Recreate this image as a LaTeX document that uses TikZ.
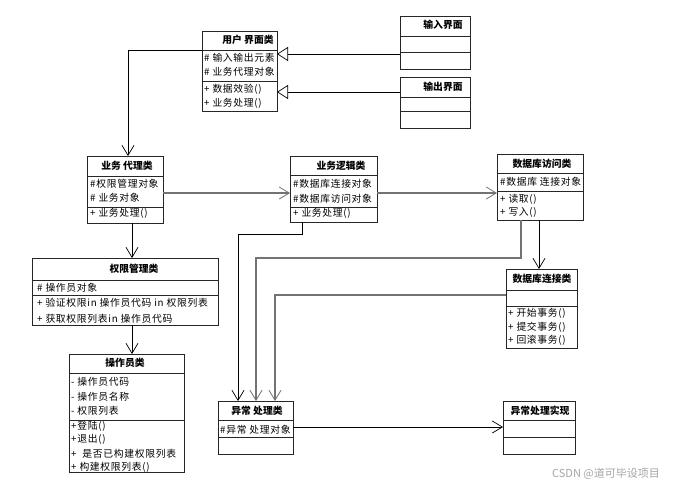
\documentclass[tikz,border=0pt]{standalone}
\usepackage{fontspec}
\setmainfont[LetterSpace=7]{Noto Sans CJK SC}
\newfontfamily\wmfont{Noto Sans CJK SC}
\usetikzlibrary{arrows.meta}
\tikzset{
  cls/.style={draw=black!85, line width=0.9pt, fill=white, inner sep=0pt, outer sep=0pt, rectangle, anchor=north west},
  sepl/.style={draw=black!85, line width=0.9pt},
  ttl/.style={font=\wmfont\fontsize{9.8}{11}\selectfont\bfseries, inner sep=0pt},
  txt/.style={font=\fontsize{9.8}{11}\selectfont, inner sep=0pt, anchor=west},
  assoc/.style={draw=black, line width=0.7pt, -{Straight Barb[length=10pt,width=12pt,line width=0.7pt]}},
  assocg/.style={draw=black!55, line width=1.2pt, -{Straight Barb[length=10pt,width=12pt,line width=0.8pt]}},
  inh/.style={draw=black, line width=0.7pt, -{Triangle[open, length=11pt, width=14pt, fill=white]}},
}
\newcommand\seps[3]{%
  \draw[sepl] (#1.west|-0,#2) -- (#1.east|-0,#2);
  \draw[sepl] (#1.west|-0,#3) -- (#1.east|-0,#3);}
\begin{document}
\begin{tikzpicture}[x=1pt, y=-1pt]
\useasboundingbox (0,0) rectangle (681,488);
\fill[white] (0,0) rectangle (681,488);

% boxes
\node[cls, minimum width=75pt, minimum height=80pt] (ui) at (202,31) {};
\node[cls, minimum width=70pt, minimum height=53pt] (inp) at (400,16) {};
\node[cls, minimum width=70pt, minimum height=51pt] (outp) at (400,77) {};
\node[cls, minimum width=76pt, minimum height=67pt] (agent) at (87,156) {};
\node[cls, minimum width=87pt, minimum height=66pt] (logic) at (290,156) {};
\node[cls, minimum width=86pt, minimum height=66pt] (dba) at (497,154) {};
\node[cls, minimum width=186pt, minimum height=67pt] (perm) at (32,258) {};
\node[cls, minimum width=115pt, minimum height=118pt] (op) at (69,354) {};
\node[cls, minimum width=71pt, minimum height=79pt] (dbc) at (506,269) {};
\node[cls, minimum width=75pt, minimum height=53pt] (exc) at (218,401) {};
\node[cls, minimum width=72pt, minimum height=53pt] (impl) at (503,401) {};

\seps{ui}{50}{81}
\seps{inp}{36}{52}
\seps{outp}{97}{111}
\seps{agent}{176}{207}
\seps{logic}{175}{207}
\seps{dba}{173}{191}
\seps{perm}{280}{295}
\seps{op}{373}{420}
\seps{dbc}{290}{306}
\seps{exc}{420}{437}
\seps{impl}{420}{437}

% texts
\begin{scope}
\clip (ui.north west) rectangle (ui.south east);
\node[ttl] (uiT) at (248,40) {用户 界面类};
\node[txt] (uiA1) at (204,58) {\# 输入输出元素};
\node[txt] (uiA2) at (204,72) {\# 业务代理对象};
\node[txt] (uiM1) at (204,89) {+ 数据效验()};
\node[txt] (uiM2) at (204,103) {+ 业务处理()};
\end{scope}

\node[ttl] (inpT) at (443,25) {输入界面};
\node[ttl] (outpT) at (443,87) {输出界面};

\node[ttl] (agentT) at (127,166) {业务 代理类};
\node[txt] (agentA1) at (90,184) {\#权限管理对象};
\node[txt] (agentA2) at (90,198) {\# 业务对象};
\node[txt] (agentM1) at (90,213) {+ 业务处理()};

\node[ttl] (logicT) at (341,166) {业务逻辑类};
\node[txt] (logicA1) at (293,184) {\#数据库连接对象};
\node[txt] (logicA2) at (293,199) {\#数据库访问对象};
\node[txt] (logicM1) at (293,213) {+ 业务处理()};

\node[ttl] (dbaT) at (542,164) {数据库访问类};
\node[txt] (dbaA1) at (500,182) {\#数据库 连接对象};
\node[txt] (dbaM1) at (500,199) {+ 读取()};
\node[txt] (dbaM2) at (500,212) {+ 写入()};

\node[ttl] (permT) at (134,269) {权限管理类};
\node[txt] (permA1) at (37,288) {\# 操作员对象};
\node[txt] (permM1) at (37,303) {+ 验证权限in 操作员代码 in 权限列表};
\node[txt] (permM2) at (37,319) {+ 获取权限列表in 操作员代码};

\node[ttl] (opT) at (125,363) {操作员类};
\node[txt] (opA1) at (71,382) {- 操作员代码};
\node[txt] (opA2) at (71,397) {- 操作员名称};
\node[txt] (opA3) at (71,411) {- 权限列表};
\node[txt] (opM1) at (71,426) {+登陆()};
\node[txt] (opM2) at (71,439) {+退出()};
\node[txt] (opM3) at (71,454) {+ \ 是否已构建权限列表};
\node[txt] (opM4) at (71,467) {+ 构建权限列表()};

\node[ttl] (dbcT) at (542,279) {数据库连接类};
\node[txt] (dbcM1) at (508,313) {+ 开始事务()};
\node[txt] (dbcM2) at (508,327) {+ 提交事务()};
\node[txt] (dbcM3) at (508,340) {+ 回滚事务()};

\node[ttl] (excT) at (257,411) {异常 处理类};
\node[txt] (excA1) at (220,430) {\#异常 处理对象};
\node[ttl] (implT) at (540,411) {异常处理实现};

% connectors
\draw[inh] (inp.west|-0,54) -- (ui.east|-0,54);
\draw[inh] (outp.west|-0,92) -- (ui.east|-0,92);
\draw[assoc] (ui.west|-0,50) -| (128,0|-agent.north);
\draw[assocg] (agent.east|-0,193) -- (logic.west|-0,193);
\draw[assocg] (logic.east|-0,193) -- (dba.west|-0,193);
\draw[assoc] (539,0|-dba.south) -- (539,0|-dbc.north);
\draw[assoc] (132,0|-agent.south) -- (132,0|-perm.north);
\draw[assoc] (132,0|-perm.south) -- (132,0|-op.north);
\draw[assoc] (302,0|-logic.south) -- (302,234) -| (238,0|-exc.north);
\draw[assocg] (521,0|-dba.south) -- (521,258) -| (256,0|-exc.north);
\draw[assocg] (dbc.west|-0,295) -| (275,0|-exc.north);
\draw[assoc] (exc.east|-0,427) -- (impl.west|-0,427);

\node[font=\wmfont\fontsize{11}{13}\selectfont, text=black!35, anchor=west, inner sep=0pt] (wm) at (552,474) {CSDN @道可毕设项目};
\end{tikzpicture}
\end{document}
